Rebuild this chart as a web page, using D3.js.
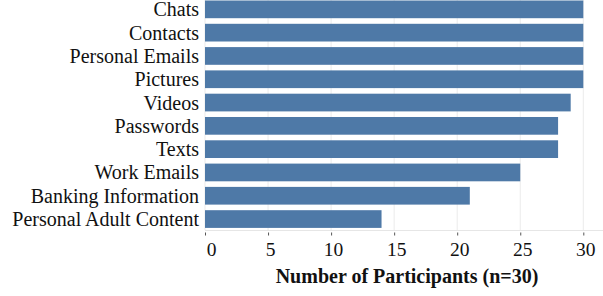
<!DOCTYPE html>
<html>
<head>
<meta charset="utf-8">
<script src="https://cdn.jsdelivr.net/npm/d3@7"></script>
<style>
  body { margin: 0; background: #fff; }
  text { font-family: "Liberation Serif", "Times New Roman", serif; fill: #111; }
</style>
</head>
<body>
<div id="chart"></div>
<script>
const categories = ["Chats", "Contacts", "Personal Emails", "Pictures", "Videos",
                    "Passwords", "Texts", "Work Emails", "Banking Information", "Personal Adult Content"];
const counts = [30, 30, 30, 30, 29, 28, 28, 25, 21, 14];
const xTicks = [0, 5, 10, 15, 20, 25, 30];
const xTitle = "Number of Participants (n=30)";

const width = 603, height = 296;
const plot = {left: 205, right: 583.3, top: -2.3, bottom: 230.7};

const svg = d3.select("#chart")
    .append("svg")
    .attr("width", width)
    .attr("height", height);

const x = d3.scaleLinear()
    .domain([0, 30])
    .range([plot.left, plot.right]);

const y = d3.scaleBand()
    .domain(categories)
    .range([plot.top, plot.bottom])
    .paddingInner(0.24)
    .paddingOuter(0.12);

// grid lines
svg.append("g")
    .selectAll("line")
    .data(xTicks)
    .join("line")
      .attr("x1", d => x(d))
      .attr("x2", d => x(d))
      .attr("y1", 0)
      .attr("y2", 230)
      .attr("stroke", "#ebebeb")
      .attr("stroke-width", 1);

// bars
svg.append("g")
    .selectAll("rect")
    .data(categories)
    .join("rect")
      .attr("x", x(0))
      .attr("y", d => y(d))
      .attr("width", (d, i) => x(counts[i]) - x(0))
      .attr("height", y.bandwidth())
      .attr("fill", "#4e79a7");

// category labels
svg.append("g")
    .selectAll("text")
    .data(categories)
    .join("text")
      .attr("x", plot.left - 6)
      .attr("y", d => y(d) + y.bandwidth() / 2)
      .attr("dy", "0.35em")
      .attr("text-anchor", "end")
      .style("font-size", "20px")
      .text(d => d);

// x axis
const axis = svg.append("g")
    .attr("transform", "translate(0,230.5)")
    .call(d3.axisBottom(x).tickValues(xTicks).tickSize(0).tickPadding(12));
axis.select(".domain").remove();
axis.append("line")
    .attr("x1", plot.left)
    .attr("x2", width)
    .attr("stroke", "#e6e6e6");
axis.selectAll(".tick").append("line")
    .attr("y1", 2)
    .attr("y2", 5)
    .attr("stroke", "#555");
axis.selectAll(".tick text")
    .attr("dx", (d, i) => i === 0 ? 6 : 2)
    .style("font-size", "19.5px")
    .style("font-family", "'Liberation Serif', 'Times New Roman', serif")
    .attr("fill", "#111");

svg.append("text")
    .attr("x", 407)
    .attr("y", 283)
    .attr("text-anchor", "middle")
    .style("font-size", "20px")
    .style("font-weight", "bold")
    .text(xTitle);
</script>
</body>
</html>
